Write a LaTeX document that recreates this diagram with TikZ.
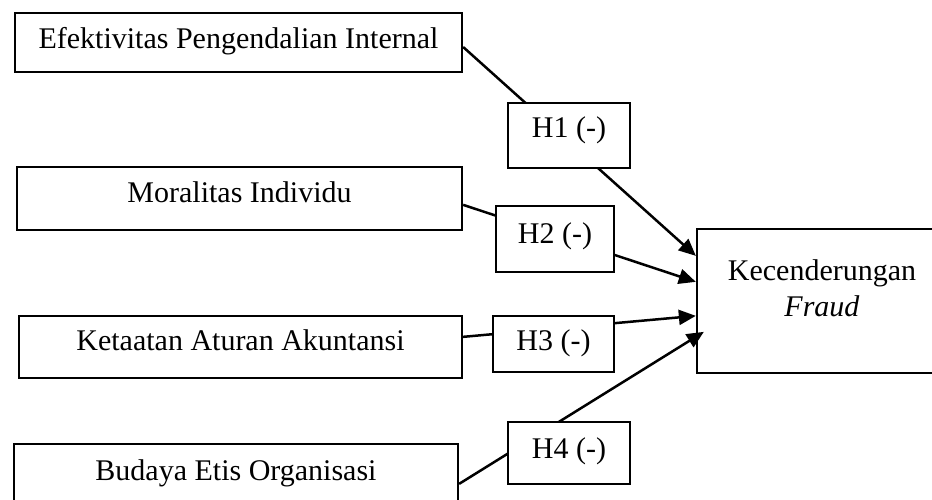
\documentclass[tikz,border=0pt]{standalone}
\usepackage{fontspec}
\setmainfont{Liberation Serif}
\usetikzlibrary{arrows.meta,calc}
\begin{document}
\begin{tikzpicture}[x=1pt,y=-1pt,
  every node/.style={font=\fontsize{30}{36}\selectfont},
  frame/.style={draw, line width=2.3pt, inner sep=0pt},
  box/.style={frame, text height=20.5pt},
  hbox/.style={box, fill=white},
  conn/.style={line width=2.5pt, -{Triangle[length=17pt,width=15pt]}}]
\useasboundingbox (0,0) rectangle (932,500);

% variable boxes
\node[box, minimum width=447pt, minimum height=59pt, text depth=7.5pt] (b1) at (238.5,42.5) {Efektivitas Pengendalian Internal};
\node[box, minimum width=445pt, minimum height=63pt, text depth=13.5pt] (b2) at (239.5,198.5) {Moralitas Individu};
\node[box, minimum width=443pt, minimum height=62pt, text depth=14.5pt] (b3) at (240.5,347) {Ketaatan Aturan Akuntansi};
\node[box, minimum width=444pt, minimum height=62pt, text depth=10.5pt] (b4) at (236,475) {Budaya Etis Organisasi};
\node[frame, minimum width=250pt, minimum height=144pt, align=center, text depth=26.5pt] (kec) at (822,301) {Kecenderungan\\\textit{Fraud}};

% connectors
\draw[conn] ($(b1.east)+(0,4.5)$) -- ($(kec.north west)+(0,28)$);
\draw[conn] ($(b2.north east)+(0,39)$) -- ($(kec.north west)+(0,54)$);
\draw[conn] ($(b3.north east)+(0,22)$) -- ($(kec.north west)+(0,88)$);
\draw[conn] ($(b4.north east)+(0,41)$) -- ($(kec.north west)+(8,104)$);

% hypothesis labels
\node[hbox, minimum width=122pt, minimum height=65pt, text depth=15.5pt] (h1) at (569,135.5) {H1 (-)};
\node[hbox, minimum width=118pt, minimum height=66pt, text depth=12.5pt] (h2) at (555,239) {H2 (-)};
\node[hbox, minimum width=121pt, minimum height=56pt, text depth=8.5pt] (h3) at (553.5,344) {H3 (-)};
\node[hbox, minimum width=122pt, minimum height=62pt, text depth=10.5pt] (h4) at (569,453) {H4 (-)};
\end{tikzpicture}
\end{document}
